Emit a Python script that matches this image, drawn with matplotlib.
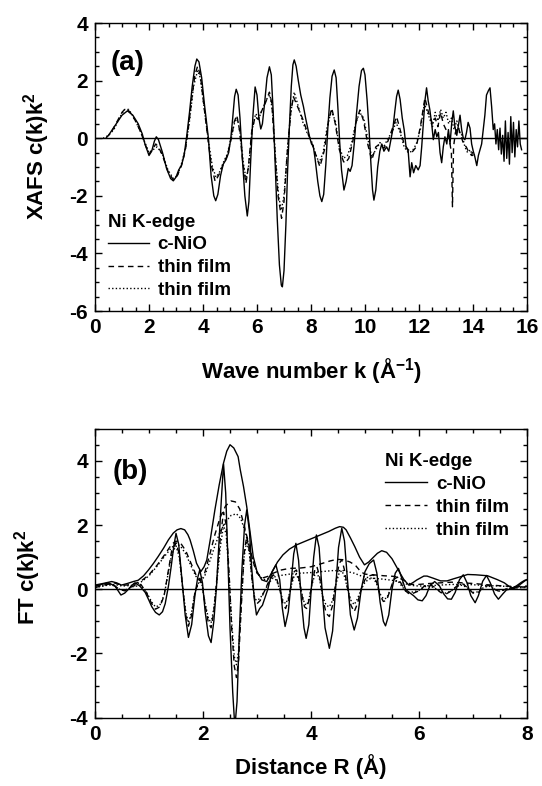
import numpy as np
import matplotlib
matplotlib.use('Agg')
import matplotlib.pyplot as plt
from matplotlib.ticker import MultipleLocator

plt.rcParams['font.family'] = ['Liberation Sans', 'DejaVu Sans']
plt.rcParams['font.weight'] = 'bold'
plt.rcParams['axes.unicode_minus'] = False
plt.rcParams['mathtext.fontset'] = 'custom'
plt.rcParams['mathtext.rm'] = 'Liberation Sans'
plt.rcParams['mathtext.bf'] = 'Liberation Sans:bold'

# ── (a) XAFS chi(k)k^2 ───────────────────────────────────────────────
k_nio = [0.5, 0.75, 1.0, 1.2, 1.4, 1.6, 1.75, 1.85, 2.0, 2.1, 2.2, 2.27, 2.35, 2.5, 2.65, 2.8, 2.9,
         3.0, 3.1, 3.2, 3.3, 3.4, 3.5, 3.6, 3.7, 3.77, 3.85, 3.95, 4.05, 4.2, 4.3, 4.4, 4.47, 4.55,
         4.65, 4.75, 4.85, 4.95, 5.03, 5.1, 5.17, 5.23, 5.3, 5.37, 5.45, 5.55, 5.64, 5.7, 5.77,
         5.85, 5.93, 6.0, 6.07, 6.14, 6.2, 6.28, 6.37, 6.46, 6.53, 6.6, 6.67, 6.75, 6.83, 6.9,
         6.94, 7.0, 7.07, 7.13, 7.2, 7.27, 7.33, 7.38, 7.45, 7.53, 7.62, 7.72, 7.8, 7.9, 7.96,
         8.02, 8.08, 8.15, 8.25, 8.33, 8.4, 8.47, 8.55, 8.62, 8.7, 8.78, 8.86, 8.93, 9.0, 9.06,
         9.13, 9.22, 9.3, 9.38, 9.45, 9.52, 9.6, 9.68, 9.78, 9.87, 9.94, 10.0, 10.08, 10.15,
         10.22, 10.28, 10.33, 10.4, 10.47, 10.55, 10.62, 10.7, 10.8, 10.88, 10.95, 11.03, 11.1,
         11.17, 11.23, 11.3, 11.38, 11.45, 11.52, 11.6, 11.67, 11.73, 11.8, 11.88, 11.97, 12.04,
         12.1, 12.16, 12.22, 12.28, 12.34, 12.4, 12.47, 12.53, 12.6, 12.66, 12.72, 12.78, 12.84,
         12.9, 12.96, 13.03, 13.09, 13.15, 13.21, 13.27, 13.33, 13.4, 13.46, 13.52, 13.58, 13.64,
         13.7, 13.76, 13.82, 13.89, 13.95, 14.01, 14.07, 14.14, 14.2, 14.26, 14.32, 14.38, 14.44,
         14.5, 14.57, 14.63, 14.69, 14.75, 14.8, 14.85, 14.9, 14.95, 15.0, 15.05, 15.1, 15.15,
         15.2, 15.25, 15.3, 15.35, 15.4, 15.45, 15.5, 15.55, 15.6, 15.65, 15.7, 15.75, 15.8]
chi_nio = [0.1, 0.45, 0.8, 0.95, 0.8, 0.5, 0.15, -0.2, -0.6, -0.45, -0.1, 0.05, -0.05, -0.5, -1.05,
           -1.4, -1.48, -1.35, -1.1, -0.95, -0.6, 0.1, 0.9, 1.8, 2.5, 2.75, 2.65, 2.1, 1.2, 0.0,
           -1.3, -2.0, -2.17, -1.95, -1.3, -0.9, -0.75, -0.5, 0.0, 0.7, 1.45, 1.7, 1.5, 0.7, -0.6,
           -2.0, -2.7, -2.2, -0.7, 0.8, 1.78, 1.5, 0.7, 0.32, 0.5, 1.2, 2.1, 2.48, 2.2, 0.9, -0.8,
           -2.8, -4.4, -5.1, -5.16, -4.6, -3.0, -1.2, 0.4, 1.8, 2.55, 2.72, 2.5, 2.0, 1.5, 1.1,
           0.7, 0.25, 0.0, -0.2, -0.25, -0.7, -1.5, -2.0, -2.2, -1.95, -0.9, 0.3, 1.4, 2.15, 2.37,
           2.1, 1.0, -0.1, -1.1, -1.8, -1.5, -1.05, -1.15, -0.95, -0.2, 0.8, 1.8, 2.35, 2.43, 2.2,
           1.3, 0.3, -0.9, -1.8, -2.15, -1.8, -1.0, -0.45, -0.2, -0.45, -0.3, -0.45, -0.1, 0.3,
           0.9, 1.45, 1.67, 1.35, 0.7, 0.3, -0.3, -0.45, -1.34, -0.85, -1.2, -0.95, -1.1, -0.95,
           -0.3, 0.5, 1.3, 1.75, 1.3, 1.0, 0.5, -0.05, 0.3, 0.05, 0.2, -0.5, -0.85, -0.3, 0.05,
           -0.2, 0.3, -0.2, 0.5, 0.95, 0.4, 0.1, 0.45, 0.8, 0.3, 0.0, -0.05, 0.2, 0.55, 0.35, -0.2,
           -0.45, -0.65, -0.95, -0.6, -0.4, -0.2, 0.3, 0.8, 1.5, 1.65, 1.75, 1.1, 0.3, 0.5, -0.2,
           0.3, -0.4, 0.35, -0.55, 0.1, -0.8, 0.6, -0.7, 0.2, -0.9, 0.75, -0.5, 0.55, -0.65, 0.3,
           -0.3, 0.6, -0.2, -0.4]

k_film1 = [0.4, 0.6, 0.8, 1.0, 1.15, 1.3, 1.5, 1.7, 1.85, 2.0, 2.12, 2.25, 2.35, 2.5, 2.7, 2.9, 3.05,
           3.2, 3.35, 3.45, 3.6, 3.7, 3.8, 3.9, 4.05, 4.2, 4.3, 4.45, 4.6, 4.75, 4.9, 5.05, 5.15,
           5.25, 5.35, 5.47, 5.59, 5.68, 5.8, 5.93, 6.05, 6.15, 6.3, 6.46, 6.55, 6.65, 6.78, 6.91,
           7.0, 7.12, 7.25, 7.35, 7.5, 7.68, 7.85, 8.0, 8.15, 8.33, 8.5, 8.65, 8.77, 8.9, 9.05,
           9.2, 9.26, 9.4, 9.55, 9.68, 9.81, 9.95, 10.1, 10.25, 10.4, 10.55, 10.7, 10.85, 11.0,
           11.17, 11.3, 11.45, 11.6, 11.73, 11.9, 12.05, 12.22, 12.35, 12.5, 12.6, 12.7, 12.8,
           12.9, 13.0, 13.1, 13.2, 13.24, 13.28, 13.35, 13.45, 13.55, 13.65, 13.75, 13.85, 13.95,
           14.0]
chi_film1 = [0.0, 0.2, 0.55, 0.9, 1.05, 0.9, 0.6, 0.2, -0.2, -0.55, -0.4, -0.2, -0.3, -0.6, -1.15,
             -1.45, -1.3, -0.95, -0.4, 0.3, 1.5, 2.2, 2.5, 2.2, 1.0, -0.15, -0.9, -1.5, -1.25,
             -0.9, -0.6, 0.0, 0.55, 0.8, 0.3, -0.8, -1.57, -1.0, 0.2, 0.75, 0.65, 0.9, 1.2, 1.6,
             1.2, -0.3, -2.0, -2.78, -2.2, -0.5, 0.9, 1.44, 1.1, 0.7, 0.25, -0.1, -0.5, -0.99,
             -0.4, 0.6, 1.04, 0.5, -0.4, -0.8, -0.87, -0.7, -0.1, 0.6, 0.98, 0.6, -0.2, -0.76,
             -0.3, -0.2, -0.35, -0.1, 0.3, 0.75, 0.3, -0.2, -0.4, -0.5, -0.3, 0.4, 1.4, 0.9, 0.5,
             0.7, 0.4, 0.9, 0.5, 0.3, 0.1, -0.5, -2.38, -0.3, 0.2, 0.4, 0.1, -0.2, -0.3, -0.5,
             -0.6, -0.4]

k_film2 = [0.3, 0.5, 0.7, 0.9, 1.1, 1.25, 1.45, 1.65, 1.85, 2.0, 2.15, 2.3, 2.5, 2.7, 2.9, 3.05, 3.2,
           3.35, 3.5, 3.65, 3.8, 3.9, 4.05, 4.2, 4.35, 4.48, 4.6, 4.75, 4.9, 5.05, 5.17, 5.27,
           5.37, 5.5, 5.6, 5.7, 5.82, 5.95, 6.07, 6.2, 6.35, 6.48, 6.58, 6.68, 6.8, 6.9, 7.0,
           7.12, 7.25, 7.38, 7.5, 7.68, 7.85, 8.0, 8.15, 8.3, 8.45, 8.6, 8.75, 8.9, 9.05, 9.2,
           9.35, 9.5, 9.65, 9.8, 9.95, 10.1, 10.25, 10.4, 10.55, 10.7, 10.85, 11.0, 11.15, 11.3,
           11.45, 11.6, 11.75, 11.9, 12.05, 12.2, 12.35, 12.5, 12.6, 12.7, 12.8, 12.9, 13.0, 13.1,
           13.2, 13.3, 13.4, 13.5, 13.6, 13.7, 13.8, 13.9, 14.0, 14.1]
chi_film2 = [0.0, 0.1, 0.3, 0.7, 1.0, 1.0, 0.7, 0.3, -0.15, -0.5, -0.4, -0.3, -0.55, -1.1, -1.4,
             -1.3, -0.9, -0.35, 0.6, 1.8, 2.35, 2.1, 1.0, -0.1, -1.0, -1.35, -1.2, -0.85, -0.55,
             0.05, 0.55, 0.7, 0.2, -0.9, -1.45, -0.9, 0.3, 0.85, 0.7, 1.0, 1.35, 1.5, 0.9, -0.6,
             -2.0, -2.5, -2.0, -0.5, 0.9, 1.6, 1.2, 0.6, 0.2, -0.05, -0.5, -0.85, -0.5, 0.4, 0.95,
             0.6, -0.3, -0.7, -0.6, -0.2, 0.5, 0.9, 0.7, 0.0, -0.65, -0.4, -0.15, -0.3, 0.0, 0.2,
             0.55, 0.2, -0.3, -0.5, -0.45, -0.2, 0.3, 1.2, 0.8, 0.4, 0.9, 0.6, 1.0, 0.7, 0.9, 0.5,
             0.7, 0.3, 0.6, 0.2, 0.1, -0.3, -0.5, -0.4, -0.64, -0.5]

# ── (b) FT chi(k)k^2 : magnitude and real part ───────────────────────
r_nio_mag = [0.0, 0.15, 0.31, 0.4, 0.49, 0.6, 0.71, 0.8, 0.9, 0.99, 1.08, 1.17, 1.27, 1.36, 1.45,
             1.52, 1.59, 1.66, 1.72, 1.76, 1.82, 1.88, 1.96, 2.02, 2.07, 2.14, 2.22, 2.3, 2.38,
             2.44, 2.5, 2.57, 2.65, 2.69, 2.75, 2.81, 2.87, 2.93, 3.0, 3.09, 3.18, 3.3, 3.38, 3.48,
             3.6, 3.73, 3.9, 4.13, 4.33, 4.45, 4.53, 4.6, 4.65, 4.73, 4.81, 4.9, 4.99, 5.07, 5.14,
             5.23, 5.31, 5.4, 5.5, 5.6, 5.65, 5.72, 5.81, 5.9, 5.96, 6.09, 6.15, 6.27, 6.4, 6.52,
             6.65, 6.77, 6.9, 7.05, 7.27, 7.45, 7.58, 7.7, 7.77, 7.85, 7.96, 8.0]
ft_nio_mag = [0.13, 0.18, 0.24, 0.2, 0.13, 0.18, 0.24, 0.28, 0.42, 0.6, 0.8, 1.02, 1.28, 1.54, 1.75,
              1.85, 1.89, 1.85, 1.7, 1.54, 1.2, 0.81, 0.55, 0.7, 0.91, 1.6, 2.47, 3.25, 3.93, 4.3,
              4.5, 4.4, 4.13, 3.72, 3.2, 2.57, 1.8, 1.02, 0.55, 0.29, 0.24, 0.6, 0.85, 1.07, 1.25,
              1.38, 1.5, 1.66, 1.8, 1.9, 1.95, 1.93, 1.85, 1.6, 1.33, 1.0, 0.76, 0.85, 0.97, 1.12,
              1.2, 1.15, 0.95, 0.65, 0.5, 0.3, 0.13, 0.22, 0.29, 0.41, 0.41, 0.34, 0.26, 0.26,
              0.33, 0.39, 0.46, 0.45, 0.42, 0.3, 0.2, 0.05, 0.03, 0.12, 0.26, 0.3]

r_nio_re = [0.0, 0.12, 0.25, 0.37, 0.48, 0.55, 0.62, 0.68, 0.74, 0.83, 0.93, 1.0, 1.05, 1.12, 1.19,
            1.25, 1.3, 1.36, 1.41, 1.46, 1.5, 1.55, 1.61, 1.67, 1.73, 1.79, 1.85, 1.9, 1.94, 1.99,
            2.04, 2.1, 2.15, 2.2, 2.25, 2.3, 2.34, 2.38, 2.42, 2.46, 2.5, 2.55, 2.59, 2.63, 2.67,
            2.72, 2.77, 2.81, 2.86, 2.9, 2.95, 2.99, 3.05, 3.1, 3.2, 3.28, 3.35, 3.42, 3.47, 3.52,
            3.58, 3.63, 3.68, 3.72, 3.77, 3.82, 3.87, 3.91, 3.96, 4.0, 4.05, 4.1, 4.15, 4.2, 4.26,
            4.34, 4.4, 4.45, 4.51, 4.57, 4.62, 4.67, 4.73, 4.8, 4.86, 4.93, 5.0, 5.08, 5.16, 5.22,
            5.28, 5.34, 5.38, 5.44, 5.5, 5.56, 5.62, 5.68, 5.75, 5.82, 5.9, 5.98, 6.06, 6.13, 6.2,
            6.29, 6.38, 6.46, 6.53, 6.6, 6.67, 6.75, 6.82, 6.89, 6.96, 7.04, 7.1, 7.18, 7.25, 7.32,
            7.4, 7.47, 7.55, 7.62, 7.68, 7.8, 7.9, 7.96, 8.0]
ft_nio_re = [0.1, 0.15, 0.2, 0.1, -0.18, -0.12, 0.0, 0.12, 0.2, 0.1, -0.1, -0.35, -0.54, -0.72, -0.8,
             -0.7, -0.45, 0.1, 0.7, 1.35, 1.74, 1.4, 0.3, -0.8, -1.5, -1.1, -0.2, 0.35, 0.6, 0.2,
             -0.7, -1.45, -1.66, -1.0, 0.08, 1.6, 2.8, 3.9, 3.0, 1.0, -1.2, -3.2, -4.3, -3.5, -1.5,
             0.6, 2.0, 2.47, 1.8, 0.7, -0.3, -0.8, -0.6, -0.5, 0.0, 0.55, 0.76, 0.3, -0.6, -1.16,
             -0.7, 0.2, 1.1, 1.43, 0.9, -0.3, -1.2, -1.53, -1.1, -0.1, 1.0, 1.69, 1.3, 0.1, -1.2,
             -1.84, -1.3, -0.1, 1.3, 1.9, 1.5, 0.4, -0.8, -1.27, -0.9, 0.0, 0.55, 0.8, 0.91, 0.5,
             -0.4, -1.0, -1.14, -0.8, 0.0, 0.5, 0.65, 0.35, 0.0, -0.1, -0.2, -0.33, -0.36, -0.2,
             0.1, 0.24, 0.1, -0.15, -0.3, -0.31, -0.1, 0.3, 0.45, 0.2, -0.2, -0.42, -0.2, 0.25,
             0.43, 0.2, -0.15, -0.31, -0.15, -0.02, 0.0, 0.1, 0.22, 0.28, 0.3]

r_film1_mag = [0.0, 0.2, 0.35, 0.5, 0.7, 0.85, 1.0, 1.15, 1.3, 1.42, 1.5, 1.58, 1.68, 1.78, 1.87,
               1.95, 2.03, 2.12, 2.22, 2.32, 2.42, 2.52, 2.6, 2.68, 2.76, 2.85, 2.93, 3.0, 3.1,
               3.2, 3.3, 3.45, 3.6, 3.8, 4.0, 4.2, 4.35, 4.48, 4.6, 4.72, 4.82, 4.92, 5.0, 5.15,
               5.35, 5.55, 5.7, 5.85, 6.0, 6.2, 6.4, 6.6, 6.8, 7.0, 7.2, 7.4, 7.6, 7.8, 8.0]
ft_film1_mag = [0.1, 0.15, 0.2, 0.12, 0.15, 0.25, 0.45, 0.75, 1.1, 1.4, 1.5, 1.45, 1.2, 0.8, 0.45,
                0.3, 0.5, 1.05, 1.7, 2.25, 2.6, 2.75, 2.72, 2.5, 2.0, 1.4, 0.85, 0.5, 0.35, 0.4,
                0.5, 0.6, 0.65, 0.66, 0.7, 0.8, 0.88, 0.93, 0.92, 0.85, 0.75, 0.55, 0.47, 0.45,
                0.42, 0.4, 0.3, 0.15, 0.15, 0.18, 0.2, 0.22, 0.2, 0.18, 0.15, 0.12, 0.1, 0.08, 0.1]

r_film_re = [0.0, 0.15, 0.3, 0.45, 0.55, 0.7, 0.85, 0.95, 1.05, 1.12, 1.2, 1.28, 1.35, 1.42, 1.5,
             1.56, 1.62, 1.68, 1.73, 1.79, 1.85, 1.93, 1.98, 2.04, 2.1, 2.15, 2.2, 2.26, 2.32, 2.38,
             2.43, 2.48, 2.53, 2.58, 2.62, 2.66, 2.71, 2.76, 2.81, 2.86, 2.91, 2.96, 3.0, 3.06,
             3.14, 3.22, 3.3, 3.36, 3.42, 3.48, 3.53, 3.58, 3.64, 3.69, 3.73, 3.78, 3.84, 3.88,
             3.92, 3.97, 4.02, 4.07, 4.11, 4.16, 4.22, 4.28, 4.34, 4.4, 4.46, 4.52, 4.57, 4.62,
             4.68, 4.74, 4.8, 4.86, 4.93, 5.0, 5.08, 5.16, 5.22, 5.28, 5.34, 5.4, 5.46, 5.53, 5.6,
             5.68, 5.75, 5.82, 5.9, 6.0, 6.1, 6.2, 6.3, 6.4, 6.5, 6.6, 6.7, 6.8, 6.9, 7.0, 7.1,
             7.2, 7.3, 7.4, 7.5, 7.6, 7.8, 8.0]
ft_film1_re = [0.05, 0.12, 0.18, 0.0, -0.05, 0.1, 0.15, -0.1, -0.45, -0.62, -0.55, -0.2, 0.5, 1.2,
               1.45, 1.1, 0.1, -0.8, -1.15, -0.8, -0.1, 0.3, 0.2, -0.5, -1.05, -1.2, -0.7, 0.4,
               1.6, 2.4, 2.0, 0.6, -1.2, -2.4, -2.75, -2.2, -0.5, 1.1, 1.65, 1.2, 0.3, -0.35,
               -0.45, -0.35, -0.05, 0.25, 0.45, 0.35, 0.0, -0.45, -0.6, -0.35, 0.2, 0.55, 0.6,
               0.3, -0.25, -0.55, -0.6, -0.3, 0.2, 0.6, 0.7, 0.4, -0.3, -0.75, -0.85, -0.5, 0.2,
               0.8, 0.92, 0.6, 0.0, -0.5, -0.7, -0.45, 0.0, 0.3, 0.42, 0.45, 0.2, -0.2, -0.38,
               -0.35, -0.05, 0.3, 0.38, 0.15, -0.05, -0.15, -0.12, -0.05, 0.1, 0.15, 0.05, -0.1,
               -0.15, -0.05, 0.1, 0.18, 0.05, -0.12, -0.1, 0.08, 0.12, 0.0, -0.08, 0.0, 0.05, 0.08]

r_film2_mag = [0.0, 0.2, 0.35, 0.5, 0.7, 0.85, 1.0, 1.15, 1.3, 1.42, 1.5, 1.58, 1.68, 1.78, 1.87,
               1.95, 2.03, 2.12, 2.22, 2.32, 2.42, 2.52, 2.62, 2.7, 2.78, 2.86, 2.95, 3.03, 3.12,
               3.25, 3.4, 3.6, 3.8, 4.0, 4.2, 4.4, 4.6, 4.8, 4.95, 5.1, 5.3, 5.5, 5.7, 5.85, 6.0,
               6.3, 6.6, 6.9, 7.2, 7.5, 7.8, 8.0]
ft_film2_mag = [0.08, 0.12, 0.15, 0.1, 0.12, 0.22, 0.42, 0.72, 1.05, 1.3, 1.4, 1.35, 1.1, 0.72, 0.4,
                0.25, 0.4, 0.85, 1.35, 1.8, 2.1, 2.3, 2.35, 2.2, 1.8, 1.25, 0.75, 0.45, 0.3, 0.35,
                0.42, 0.47, 0.5, 0.52, 0.55, 0.58, 0.58, 0.5, 0.4, 0.35, 0.32, 0.28, 0.2, 0.12,
                0.1, 0.12, 0.15, 0.15, 0.12, 0.1, 0.07, 0.08]

ft_film2_re = [0.05, 0.1, 0.15, 0.0, -0.03, 0.08, 0.12, -0.08, -0.4, -0.55, -0.5, -0.18, 0.45, 1.1,
               1.35, 1.0, 0.1, -0.7, -1.05, -0.7, -0.1, 0.25, 0.15, -0.45, -0.9, -1.05, -0.6, 0.3,
               1.3, 2.0, 1.7, 0.5, -1.0, -2.1, -2.35, -1.9, -0.4, 1.0, 1.5, 1.1, 0.25, -0.3,
               -0.35, -0.28, -0.05, 0.2, 0.35, 0.28, 0.0, -0.35, -0.45, -0.28, 0.15, 0.42, 0.47,
               0.25, -0.2, -0.45, -0.5, -0.25, 0.15, 0.45, 0.52, 0.3, -0.25, -0.5, -0.55, -0.35,
               0.15, 0.5, 0.58, 0.4, 0.0, -0.35, -0.48, -0.3, 0.0, 0.22, 0.32, 0.34, 0.15, -0.15,
               -0.3, -0.28, -0.05, 0.22, 0.28, 0.1, -0.05, -0.1, -0.08, -0.03, 0.08, 0.1, 0.03,
               -0.08, -0.12, -0.05, 0.08, 0.13, 0.04, -0.1, -0.08, 0.06, 0.1, 0.0, -0.06, 0.0,
               0.04, 0.06]

SOLID = dict(color='k', lw=1.0, ls='-')
DASH = dict(color='k', lw=1.0, ls=(0, (4, 3)))
DOT = dict(color='k', lw=1.0, ls=(0, (1, 1.6)))
LEG_FONT = dict(weight='bold', size=13.5)

fig = plt.figure(figsize=(5.42, 7.86), dpi=100)
ax_a = fig.add_axes([0.1753, 0.6043, 0.797, 0.3664])
ax_b = fig.add_axes([0.1753, 0.0869, 0.797, 0.3677])


def style_axes(ax, xmax, ymin, ymax, ystep):
    ax.set_xlim(0, xmax)
    ax.set_ylim(ymin, ymax)
    ax.yaxis.set_major_locator(MultipleLocator(ystep))
    ax.yaxis.set_minor_locator(MultipleLocator(0.5))
    ax.xaxis.set_minor_locator(MultipleLocator(0.5))
    ax.tick_params(which='both', direction='in', top=True, right=True, width=1.0)
    ax.tick_params(which='major', length=5, labelsize=15, pad=5)
    ax.tick_params(which='minor', length=3)
    for s in ax.spines.values():
        s.set_linewidth(1.0)
    for lab in ax.get_xticklabels() + ax.get_yticklabels():
        lab.set_fontweight('bold')
    ax.axhline(0, color='k', lw=1.0)


# (a)
ax_a.plot(k_nio, chi_nio, label='c-NiO', **SOLID)
ax_a.plot(k_film1, chi_film1, label='thin film', **DASH)
ax_a.plot(k_film2, chi_film2, label='thin film', **DOT)
style_axes(ax_a, 16, -6, 4, 2)
ax_a.xaxis.set_major_locator(MultipleLocator(2))
ax_a.text(0.035, 0.905, '(a)', transform=ax_a.transAxes, fontsize=20, fontweight='bold', va='top')
ax_a.legend(title='Ni K-edge', loc='lower left', bbox_to_anchor=(0.03, 0.042),
            frameon=False, prop=LEG_FONT, title_fontproperties=LEG_FONT,
            alignment='left', handlelength=2.2, handletextpad=0.45,
            labelspacing=0.3, borderpad=0, borderaxespad=0)

# (b)
ax_b.plot(r_nio_mag, ft_nio_mag, label='c-NiO', **SOLID)
ax_b.plot(r_nio_re, ft_nio_re, **SOLID)
ax_b.plot(r_film1_mag, ft_film1_mag, label='thin film', **DASH)
ax_b.plot(r_film_re, ft_film1_re, **DASH)
ax_b.plot(r_film2_mag, ft_film2_mag, label='thin film', **DOT)
ax_b.plot(r_film_re, ft_film2_re, **DOT)
style_axes(ax_b, 8, -4, 5, 2)
ax_b.xaxis.set_major_locator(MultipleLocator(2))
ax_b.text(0.04, 0.895, '(b)', transform=ax_b.transAxes, fontsize=20, fontweight='bold', va='top')
ax_b.legend(title='Ni K-edge', loc='upper left', bbox_to_anchor=(0.672, 0.915),
            frameon=False, prop=LEG_FONT, title_fontproperties=LEG_FONT,
            alignment='left', handlelength=2.2, handletextpad=0.5,
            labelspacing=0.3, borderpad=0, borderaxespad=0)

# axis labels
fig.text(311 / 542, 1 - 371 / 786, 'Wave number k (Å$^{\\mathbf{-1}}$)', ha='center', va='center',
         fontsize=16, fontweight='bold')
fig.text(311 / 542, 1 - 767 / 786, 'Distance R (Å)', ha='center', va='center',
         fontsize=16, fontweight='bold')
fig.text(37 / 542, 1 - 156 / 786, 'XAFS $\\mathrm{c}$(k)k$^{\\mathbf{2}}$', rotation=90,
         ha='center', va='center', fontsize=16, fontweight='bold')
fig.text(28 / 542, 1 - 577 / 786, 'FT $\\mathrm{c}$(k)k$^{\\mathbf{2}}$', rotation=90,
         ha='center', va='center', fontsize=16, fontweight='bold')

fig.savefig('out.png', dpi=100)
